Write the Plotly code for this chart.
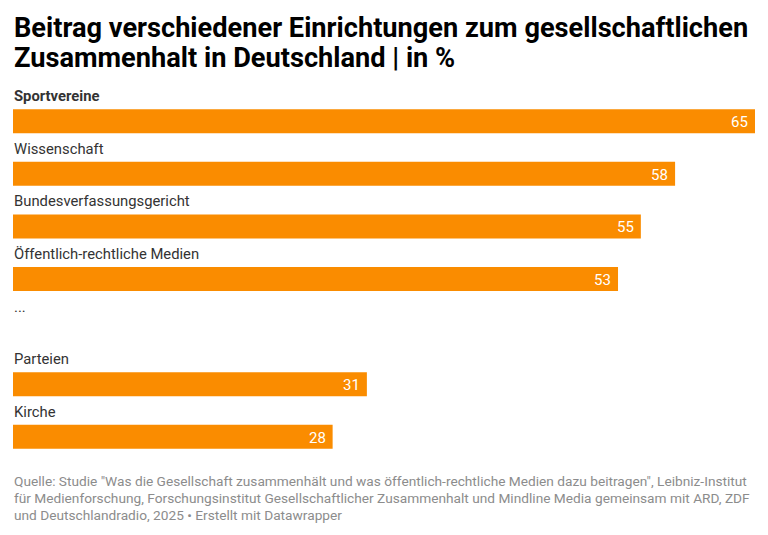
import plotly.graph_objects as go

categories = ["Sportvereine", "Wissenschaft", "Bundesverfassungsgericht",
              "Öffentlich-rechtliche Medien", "...", "Parteien", "Kirche"]
values = [65, 58, 55, 53, None, 31, 28]
bold = ["Sportvereine"]

title_lines = ["Beitrag verschiedener Einrichtungen zum gesellschaftlichen",
               "Zusammenhalt in Deutschland | in %"]
source_lines = [
    'Quelle: Studie "Was die Gesellschaft zusammenhält und was öffentlich-rechtliche Medien dazu beitragen", Leibniz-Institut',
    'für Medienforschung, Forschungsinstitut Gesellschaftlicher Zusammenhalt und Mindline Media gemeinsam mit ARD, ZDF',
    'und Deutschlandradio, 2025 • Erstellt mit Datawrapper',
]

ORANGE = "#fa8c00"
FONT = "Roboto"

fig = go.Figure(go.Bar(
    x=values, y=categories, orientation="h",
    marker=dict(color=ORANGE, line=dict(width=0)),
    hoverinfo="skip",
))

annotations = []
for cat, val in zip(categories, values):
    label = f"<b>{cat}</b>" if cat in bold else cat
    annotations.append(dict(
        x=0, y=cat, xref="x", yref="y", text=label, showarrow=False,
        xanchor="left", yanchor="middle", yshift=25, xshift=-1,
        font=dict(family=FONT, size=14.8, color="#333333"),
    ))
    if val is not None:
        annotations.append(dict(
            x=val, y=cat, xref="x", yref="y", text=str(val), showarrow=False,
            xanchor="right", yanchor="middle", xshift=-5, yshift=-1,
            font=dict(family=FONT, size=15, color="white"),
        ))

# title, two lines
for i, line in enumerate(title_lines):
    annotations.append(dict(
        x=0, y=1, xref="paper", yref="paper", text=f"<b>{line}</b>",
        showarrow=False, xanchor="left", yanchor="middle",
        yshift=67 - i * 30, xshift=-1,
        font=dict(family=FONT, size=27.2, color="#000000"),
    ))

# source note below the bars
for i, line in enumerate(source_lines):
    annotations.append(dict(
        x=0, y=0, xref="paper", yref="paper", text=line, showarrow=False,
        xanchor="left", yanchor="middle", yshift=-18 - i * 17, xshift=-1,
        font=dict(family=FONT, size=13.7, color="#8c8c8c"),
    ))

fig.update_layout(
    width=768, height=535,
    margin=dict(l=13, r=13, t=95, b=72),
    plot_bgcolor="white", paper_bgcolor="white",
    bargap=0.544,
    showlegend=False,
    annotations=annotations,
)
fig.update_xaxes(range=[0, 65], visible=False, fixedrange=True)
fig.update_yaxes(categoryorder="array", categoryarray=categories,
                 range=[len(categories) - 0.5, -0.5], visible=False,
                 fixedrange=True)

fig.write_html("out.html", config={"displayModeBar": False},
               post_script="document.body.style.margin='0';")
